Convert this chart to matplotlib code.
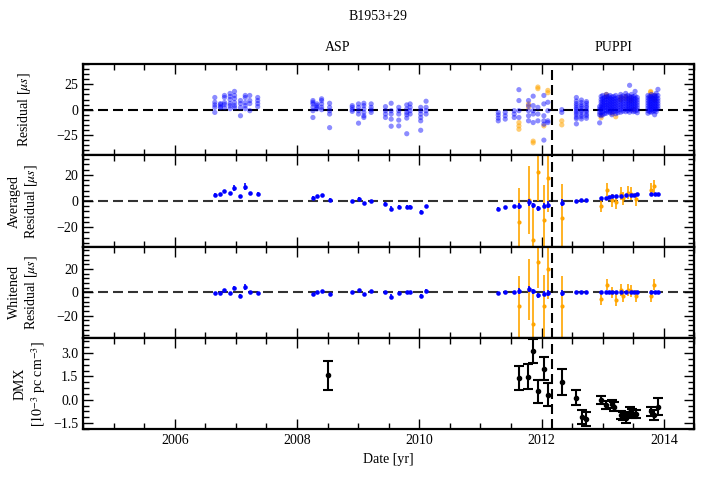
import matplotlib
matplotlib.use("Agg")
import matplotlib.pyplot as plt
from matplotlib.ticker import MultipleLocator, AutoMinorLocator, FuncFormatter
import matplotlib.transforms as mtransforms

plt.rcParams['font.family'] = ['Liberation Serif', 'DejaVu Serif']
plt.rcParams['mathtext.fontset'] = 'stix'
plt.rcParams['font.size'] = 10

# ---------------- data ----------------
# Top panel: raw residuals (us), per-epoch columns
res_blue_epochs = [2006.655, 2006.748, 2006.813, 2006.905, 2006.977, 2007.075, 2007.153, 2007.227, 2007.357,
                   2008.260, 2008.325, 2008.402, 2008.533, 2008.903, 2009.006, 2009.093, 2009.213,
                   2009.447, 2009.540, 2009.664, 2009.795, 2009.850, 2010.023, 2010.111,
                   2011.292, 2011.406, 2011.553, 2011.630, 2011.787, 2011.863, 2011.940, 2012.038, 2012.103,
                   2012.331, 2012.570, 2012.652, 2012.734,
                   2012.950, 2012.974, 2013.000, 2013.030, 2013.060, 2013.090, 2013.120, 2013.150, 2013.180,
                   2013.214, 2013.250, 2013.295, 2013.330, 2013.377, 2013.410, 2013.440, 2013.470, 2013.500,
                   2013.530, 2013.566,
                   2013.740, 2013.770, 2013.795, 2013.820, 2013.850, 2013.875, 2013.904, 2013.930]
res_blue_values = [
    [12, 7.3, 4.7, 2.3, -2.7], [6, 5, 3, 2], [14, 12, 7, 5, 2], [16, 13, 10, 6, 4, 1],
    [18, 14, 11, 7, 4, 2], [9, 6, 2, -6], [14, 12, 7, 4, 1], [14, 9, 6, -1], [12, 9, 6, 3],
    [9, 7.3, 5.7, 2.3, -1, -7.7], [5.7, 4, 2.3, 0.7], [10.7, 9, 5.7, 2.3, 0], [6.3, 2.3, -1, -4.3, -17.7],
    [4, 2.3, 0, -1.7], [5.7, 2.3, -1, -4.3, -13.3], [6.3, 4, 0.7, -2.7, -6, -7.7], [5.7, 2.3, -0.3, -2.7],
    [3, -1, -4.3, -7.7], [6.3, -1, -4.3, -9.3, -16.3], [2.3, -1, -4.3, -10.3, -16],
    [4.7, 0.7, -2.7, -5, -8.3, -23.7], [5.7, 2.3, -1, -4.3], [2.3, -1, -4.3, -7.7, -11, -20.3],
    [8.3, 2.3, -1, -4.3],
    [-2.7, -5.3, -8.3, -11], [-2.7, -6, -9.3], [-1, -4.3, -7.7], [19.7, 9, -1, -7.7],
    [9, 4, -1, -6, -11], [13.3, 4, -1, -4.3, -12.7], [2.3, -4.3, -11],
    [14, 5.7, -6, -11, -14.3, -30], [7.3, -1, -11, -12.7],
    [0, -2.7], [12, 8.5, 6, 4.2, 2, 0.5, -1.5, -3.2, -5, -7.4, -9, -14],
    [9.5, 7, 4.6, 3, 1.2, -1, -2.6, -5.3, -7, -9.2], [8, 6.3, 3.8, 2.1, -0.4, -2, -4.5, -6.2, -8.5],
    [3, 0.5, -2.5, -5, -13], [13, 10, 7.5, 5, 2.5, 0, -3, -6], [14, 11, 8.5, 6, 3.5, 1, -2, -5],
    [12, 9.5, 7, 4.5, 2, -0.5, -4], [15, 12.5, 10, 7, 4.5, 2, -1, -3.5], [13, 10.5, 8, 5.5, 3, 0.5, -2],
    [14, 11.5, 9, 6.5, 4, 1.5, -1, -3], [12.5, 10, 7.5, 5, 2.5, 0, -2.5, -5], [13, 10.5, 8, 5.5, 3, 0.5, -2],
    [14, 11, 8.5, 6, 3.5, 1, -1.5, -4], [12, 9.5, 7, 4.5, 2, -0.5, -3], [15, 12.5, 10, 7.5, 5, 2.5, 0, -2.5],
    [13.5, 11, 8.5, 6, 3.5, 1, -1.5], [16, 13, 10.5, 8, 5.5, 3, 0.5, -2], [14, 11.5, 9, 6.5, 4, 1.5, -1],
    [24, 13, 10.5, 8, 5.5, 3, 0.5, -2.5], [15, 12, 9.5, 7, 4.5, 2, -0.5], [13, 10.5, 8, 5.5, 3, 0.5, -2],
    [18, 13.5, 11, 8.5, 6, 3.5, 1, -1.5],
    [12, 9.5, 7, 4.5, 2, -0.5, -3], [14, 11.5, 9, 6.5, 4, 1.5, -1, -3.5], [13, 10.5, 8, 5.5, 3, 0.5, -2],
    [15, 12.5, 10, 7.5, 5, 2.5, 0, -2.5], [13.5, 11, 8.5, 6, 3.5, 1, -1.5], [14, 11.5, 9, 6.5, 4, 1.5, -1, -5],
    [16, 13, 10.5, 8, 5.5, 3, 0.5, -2], [20, 14, 11, 8.5, 6, 3.5, 1],
]
res_orange_epochs = [2011.630, 2011.787, 2011.863, 2011.940, 2012.038, 2012.103, 2012.331,
                     2012.974, 2013.060, 2013.158, 2013.214, 2013.295, 2013.377, 2013.459, 2013.512,
                     2013.785, 2013.850]
res_orange_values = [[-12.7, -16, -19.3], [5.7, 2.3], [-31, -32.7], [22.3, 20.7], [-16], [19, 16.7],
                     [-11, -15], [-8, -5], [13, 15], [-4], [-7], [10, 12], [11, 13], [9, 12], [0],
                     [13, 17, 18], [10, 14]]

# Averaged / whitened residuals (blue, L-band)
avg_blue_x = [2006.655, 2006.748, 2006.813, 2006.905, 2006.977, 2007.075, 2007.153, 2007.227, 2007.357,
              2008.260, 2008.325, 2008.402, 2008.533, 2008.903, 2009.006, 2009.093, 2009.213,
              2009.447, 2009.540, 2009.664, 2009.795, 2009.850, 2010.023, 2010.111,
              2011.292, 2011.406, 2011.553, 2011.630, 2011.787, 2011.863, 2011.940, 2012.038, 2012.103,
              2012.331, 2012.570, 2012.652, 2012.734,
              2012.974, 2013.060, 2013.104, 2013.158, 2013.214, 2013.295, 2013.377, 2013.459, 2013.512, 2013.566,
              2013.785, 2013.850, 2013.904]
avg_blue_y = [4.8, 5.1, 7.6, 6.1, 9.9, 3.5, 11.1, 6.1, 5.6,
              2.3, 3.5, 4.3, 1.0, 0.0, 1.5, -1.8, -0.3,
              -2.5, -5.8, -4.6, -4.6, -4.6, -8.1, -4.0,
              -5.9, -4.9, -4.2, -3.7, -1.0, -3.2, -5.7, -3.7, -2.7,
              -1.2, 0.2, 0.7, 1.0,
              2.5, 2.5, 3.0, 3.5, 3.7, 4.0, 4.4, 4.7, 4.9, 5.2,
              5.7, 5.7, 5.7]
avg_blue_err = [1.0, 1.0, 1.2, 1.0, 2.0, 1.2, 2.5, 1.0, 1.0,
                1.2, 1.0, 1.0, 1.0, 1.0, 1.5, 1.0, 1.0,
                1.5, 2.0, 1.5, 1.2, 1.2, 1.5, 1.2,
                1.0, 1.0, 1.0, 2.5, 2.5, 2.0, 2.0, 2.0, 2.5,
                2.5, 0.8, 0.8, 0.8,
                0.8, 0.8, 0.8, 0.8, 0.8, 0.8, 0.8, 0.8, 0.8, 0.8,
                0.8, 0.8, 0.8]
wht_blue_y = [-0.9, -0.9, 1.7, -0.3, 3.8, -2.9, 4.6, 0.0, -0.3,
              -1.4, 0.3, 0.9, -1.7, 0.0, 1.7, -1.2, 1.2,
              0.0, -3.8, -0.9, 0.0, 0.0, -3.2, 1.4,
              -0.6, 0.0, 0.0, 0.9, 2.9, 0.9, -2.6, -1.1, -0.9,
              -0.6, 0.0, 0.0, 0.0,
              0.0, 0.0, 0.0, 0.0, 0.0, 0.0, 0.0, 0.0, 0.0, 0.0,
              0.0, 0.0, 0.0]

# Averaged / whitened residuals (orange, low frequency)
avg_orange_x = [2011.630, 2011.787, 2011.863, 2011.945, 2012.032, 2012.103, 2012.331,
                2012.974, 2013.067, 2013.148, 2013.214, 2013.295, 2013.333, 2013.414, 2013.459, 2013.540,
                2013.785, 2013.839]
avg_orange_y = [-16.3, 0.7, -30.0, 22.2, -14.6, 17.3, -13.3,
                -3.5, 8.6, 0.7, -1.0, 5.7, 2.0, 6.4, 5.7, 1.2,
                8.6, 11.4]
avg_orange_err = [26, 26, 26, 22, 27, 26, 26,
                  5, 5, 5, 5, 5, 5, 5, 5, 5,
                  5, 5]
wht_orange_y = [-12.0, 2.3, -27.0, 25.7, -12.0, 20.0, -12.0,
                -5.7, 6.6, 0.0, -6.3, 2.3, -3.4, 2.3, 1.0, -3.4,
                -3.4, 6.6]

# DMX (10^-3 pc cm^-3)
dmx_x = [2008.50, 2011.623, 2011.782, 2011.863, 2011.940, 2012.038, 2012.103, 2012.331,
         2012.570, 2012.658, 2012.734, 2012.974, 2013.060, 2013.148, 2013.191, 2013.295,
         2013.338, 2013.387, 2013.442, 2013.485, 2013.550, 2013.785, 2013.839, 2013.904]
dmx_y = [1.58, 1.41, 1.47, 3.14, 0.54, 2.01, 0.32, 1.15,
         0.13, -1.08, -1.25, 0.0, -0.32, -0.25, -0.43, -0.97,
         -1.04, -1.19, -0.76, -0.87, -0.91, -0.74, -0.97, -0.43]
dmx_err = [0.92, 0.76, 0.8, 0.8, 0.74, 0.74, 0.74, 0.83,
           0.49, 0.45, 0.45, 0.27, 0.27, 0.27, 0.27, 0.27,
           0.27, 0.27, 0.27, 0.27, 0.27, 0.27, 0.30, 0.54]

backend_switch = 2012.17
year_ticks = [2006, 2008, 2010, 2012, 2014]

# ---------------- figure ----------------
fig = plt.figure(figsize=(7.1, 4.83), dpi=100)
gs = fig.add_gridspec(4, 1, left=0.117, right=0.978, top=0.8675, bottom=0.111, hspace=0)
axes = [fig.add_subplot(gs[i]) for i in range(4)]
for ax in axes[1:]:
    ax.sharex(axes[0])

dash = (4.8, 2.4)

ax1 = axes[0]
for xe, vals in zip(res_orange_epochs, res_orange_values):
    ax1.scatter([xe] * len(vals), vals, s=14, color='orange', alpha=0.55, edgecolors='none', zorder=2)
for xe, vals in zip(res_blue_epochs, res_blue_values):
    ax1.scatter([xe] * len(vals), vals, s=14, color='blue', alpha=0.45, edgecolors='none', zorder=3)
ax1.axhline(0, color='k', ls='--', lw=1.5, dashes=dash, zorder=1)
ax1.set_ylim(-45, 45)
ax1.set_yticks([-25, 0, 25])
ax1.yaxis.set_minor_locator(AutoMinorLocator(5))
ax1.set_ylabel(r'Residual [$\mu s$]')

trans = mtransforms.blended_transform_factory(ax1.transData, ax1.transAxes)
ax1.text(2008.67, 1.18, 'ASP', transform=trans, ha='center', va='center')
ax1.text(2013.17, 1.18, 'PUPPI', transform=trans, ha='center', va='center')

ax2 = axes[1]
ax2.errorbar(avg_orange_x, avg_orange_y, yerr=avg_orange_err, fmt='o', ms=3.0, color='orange',
             mew=0, elinewidth=1.2, capsize=0, zorder=2)
ax2.errorbar(avg_blue_x, avg_blue_y, yerr=avg_blue_err, fmt='o', ms=3.3, color='blue',
             mew=0, elinewidth=1.2, capsize=0, zorder=3)
ax2.axhline(0, color='0.2', ls='--', lw=1.5, dashes=dash, zorder=1)
ax2.set_ylim(-35, 35)
ax2.set_yticks([-20, 0, 20])
ax2.yaxis.set_minor_locator(AutoMinorLocator(5))
ax2.set_ylabel('Averaged\n' + r'Residual [$\mu s$]')

ax3 = axes[2]
ax3.errorbar(avg_orange_x, wht_orange_y, yerr=avg_orange_err, fmt='o', ms=3.0, color='orange',
             mew=0, elinewidth=1.2, capsize=0, zorder=2)
ax3.errorbar(avg_blue_x, wht_blue_y, yerr=avg_blue_err, fmt='o', ms=3.3, color='blue',
             mew=0, elinewidth=1.2, capsize=0, zorder=3)
ax3.axhline(0, color='0.2', ls='--', lw=1.5, dashes=dash, zorder=1)
ax3.set_ylim(-39, 39)
ax3.set_yticks([-20, 0, 20])
ax3.yaxis.set_minor_locator(AutoMinorLocator(5))
ax3.set_ylabel('Whitened\n' + r'Residual [$\mu s$]')

ax4 = axes[3]
ax4.errorbar(dmx_x, dmx_y, yerr=dmx_err, fmt='o', ms=3.0, color='k', elinewidth=1.5,
             capsize=3.5, capthick=1.5, zorder=3)
ax4.set_ylim(-1.9, 3.97)
ax4.set_yticks([-1.5, 0.0, 1.5, 3.0])
ax4.yaxis.set_major_formatter(FuncFormatter(lambda v, p: ('%.1f' % v).replace('-', '\u2212')))
ax4.yaxis.set_minor_locator(AutoMinorLocator(4))
ax4.set_ylabel('DMX\n' + r'[$10^{-3}$ pc cm$^{-3}$]')
ax4.set_xlabel('Date [yr]')

for ax in axes:
    ax.axvline(backend_switch, color='k', ls='--', lw=1.5, dashes=dash, zorder=4)
    ax.set_xlim(2004.5, 2014.5)
    ax.set_xticks(year_ticks)
    ax.xaxis.set_minor_locator(MultipleLocator(0.5))
    ax.tick_params(which='both', direction='in', top=True, right=True, width=1.0)
    ax.tick_params(which='major', length=7)
    ax.tick_params(which='minor', length=4)
    for sp in ax.spines.values():
        sp.set_linewidth(1.6)
    if ax is not ax4:
        ax.tick_params(labelbottom=False)

ax1.yaxis.set_label_coords(-0.082, 0.5)
ax2.yaxis.set_label_coords(-0.07, 0.5)
ax3.yaxis.set_label_coords(-0.07, 0.5)
ax4.yaxis.set_label_coords(-0.057, 0.5)

fig.text(378 / 710, 1 - 17 / 483, 'B1953+29', ha='center', va='center')

fig.savefig('out.png', dpi=100)
